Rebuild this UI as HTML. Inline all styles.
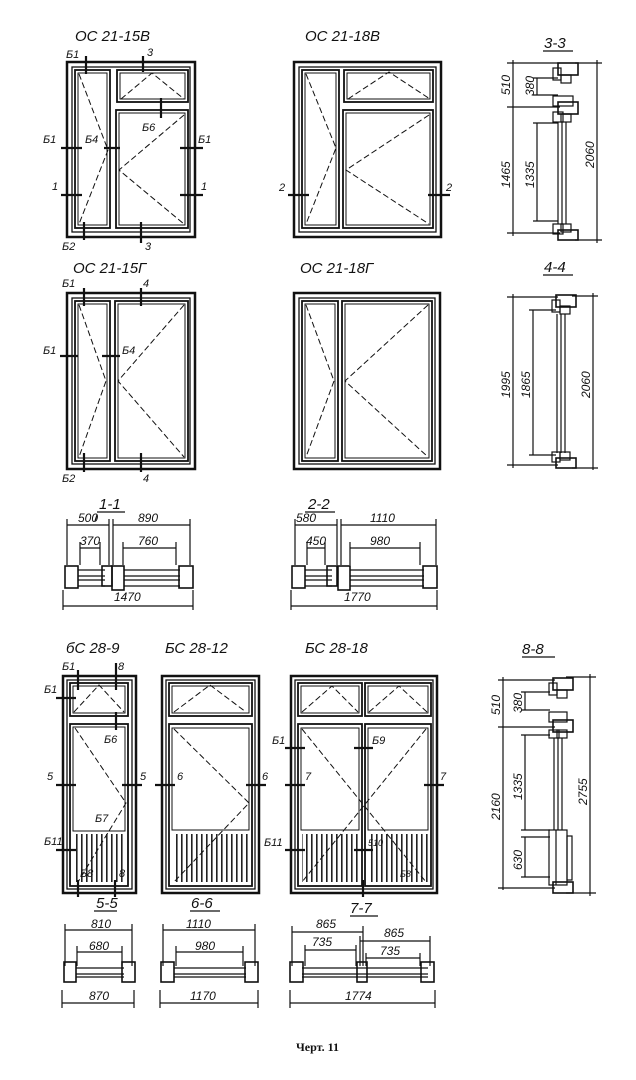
<!DOCTYPE html>
<html><head><meta charset="utf-8"><style>
html,body{margin:0;padding:0;background:#fff;}
svg{display:block;}
text{font-family:"Liberation Sans","DejaVu Sans",sans-serif;font-style:italic;fill:#111;}
.t{font-size:15px;}
.l{font-size:11px;}
.d{font-size:12px;}
</style></head><body>
<svg width="636" height="1080" viewBox="0 0 636 1080" xmlns="http://www.w3.org/2000/svg">
<defs>
<pattern id="h" width="5" height="10" patternUnits="userSpaceOnUse"><rect x="1" y="0" width="1.6" height="10" fill="#222"/></pattern>
</defs>
<g fill="none" stroke="#111">
<!-- OC 21-15B -->
<rect x="67" y="62" width="128" height="175" stroke-width="2.5"/>
<rect x="72" y="67" width="118" height="165" stroke-width="1.3"/>
<rect x="75" y="70" width="35" height="158" stroke-width="1.8"/><rect x="78" y="73" width="29" height="152" stroke-width="1"/>
<rect x="117" y="70" width="71" height="32" stroke-width="1.8"/><rect x="120" y="73" width="65" height="26" stroke-width="1"/>
<rect x="116" y="110" width="72" height="118" stroke-width="1.8"/><rect x="119" y="113" width="66" height="112" stroke-width="1"/>
<g stroke-dasharray="6,3" stroke-width="1"><polyline points="79,74 108,150 79,224"/><polyline points="121,99 152,73 184,99"/><polyline points="184,115 119,170 184,224"/></g>
<!-- OC 21-18B -->
<rect x="294" y="62" width="147" height="175" stroke-width="2.5"/>
<rect x="299" y="67" width="137" height="165" stroke-width="1.3"/>
<rect x="302" y="70" width="37" height="158" stroke-width="1.8"/><rect x="305" y="73" width="31" height="152" stroke-width="1"/>
<rect x="344" y="70" width="89" height="32" stroke-width="1.8"/><rect x="347" y="73" width="83" height="26" stroke-width="1"/>
<rect x="343" y="110" width="90" height="118" stroke-width="1.8"/><rect x="346" y="113" width="84" height="112" stroke-width="1"/>
<g stroke-dasharray="6,3" stroke-width="1"><polyline points="306,74 336,148 306,224"/><polyline points="348,99 389,72 430,99"/><polyline points="429,115 346,170 429,224"/></g>
<!-- OC 21-15G -->
<rect x="67" y="293" width="128" height="176" stroke-width="2.5"/>
<rect x="72" y="298" width="118" height="166" stroke-width="1.3"/>
<rect x="75" y="301" width="35" height="160" stroke-width="1.8"/><rect x="78" y="304" width="29" height="154" stroke-width="1"/>
<rect x="115" y="301" width="73" height="160" stroke-width="1.8"/><rect x="118" y="304" width="67" height="154" stroke-width="1"/>
<g stroke-dasharray="6,3" stroke-width="1"><polyline points="79,305 106,381 79,457"/><polyline points="184,305 118,381 184,457"/></g>
<!-- OC 21-18G -->
<rect x="294" y="293" width="146" height="176" stroke-width="2.5"/>
<rect x="299" y="298" width="136" height="166" stroke-width="1.3"/>
<rect x="302" y="301" width="36" height="160" stroke-width="1.8"/><rect x="305" y="304" width="30" height="154" stroke-width="1"/>
<rect x="342" y="301" width="90" height="160" stroke-width="1.8"/><rect x="345" y="304" width="84" height="154" stroke-width="1"/>
<g stroke-dasharray="6,3" stroke-width="1"><polyline points="306,305 334,381 306,457"/><polyline points="428,305 345,381 428,457"/></g>
<!-- section marks top windows -->
<g stroke-width="2.2">
<path d="M86,56 V74 M143,56 V72 M161,98 V118 M61,148 H82 M104,148 H120 M180,148 H203 M61,195 H82 M180,195 H203 M84,222 V240 M141,222 V243"/>
<path d="M288,195 H309 M428,195 H450"/>
<path d="M84,288 V306 M141,288 V306 M60,356 H78 M102,356 H120 M84,453 V472 M141,453 V472"/>
</g>
<!-- BS 28-9 -->
<rect x="63" y="676" width="73" height="217" stroke-width="2.5"/>
<rect x="67" y="680" width="65" height="209" stroke-width="1.3"/>
<rect x="70" y="683" width="58" height="33" stroke-width="1.8"/><rect x="73" y="686" width="52" height="27" stroke-width="1"/>
<rect x="70" y="724" width="58" height="162" stroke-width="1.8"/><rect x="73" y="727" width="52" height="104" stroke-width="1"/>
<rect x="74" y="834" width="52" height="48" fill="url(#h)" stroke="none"/>
<g stroke-dasharray="6,3" stroke-width="1"><polyline points="74,712 99,685 124,712"/><polyline points="75,728 126,803 78,882"/></g>
<!-- BS 28-12 -->
<rect x="162" y="676" width="97" height="217" stroke-width="2.5"/>
<rect x="166" y="680" width="89" height="209" stroke-width="1.3"/>
<rect x="169" y="683" width="83" height="33" stroke-width="1.8"/><rect x="172" y="686" width="77" height="27" stroke-width="1"/>
<rect x="169" y="724" width="83" height="162" stroke-width="1.8"/><rect x="172" y="728" width="77" height="102" stroke-width="1"/>
<rect x="173" y="834" width="76" height="48" fill="url(#h)" stroke="none"/>
<g stroke-dasharray="6,3" stroke-width="1"><polyline points="174,712 210,685 246,712"/><polyline points="174,729 249,803 174,882"/></g>
<!-- BS 28-18 -->
<rect x="291" y="676" width="146" height="217" stroke-width="2.5"/>
<rect x="295" y="680" width="138" height="209" stroke-width="1.3"/>
<rect x="298" y="683" width="64" height="33" stroke-width="1.8"/><rect x="301" y="686" width="58" height="27" stroke-width="1"/>
<rect x="365" y="683" width="66" height="33" stroke-width="1.8"/><rect x="368" y="686" width="60" height="27" stroke-width="1"/>
<rect x="298" y="724" width="64" height="162" stroke-width="1.8"/><rect x="301" y="728" width="58" height="102" stroke-width="1"/>
<rect x="365" y="724" width="66" height="162" stroke-width="1.8"/><rect x="368" y="728" width="60" height="102" stroke-width="1"/>
<rect x="302" y="834" width="57" height="48" fill="url(#h)" stroke="none"/>
<rect x="368" y="834" width="60" height="48" fill="url(#h)" stroke="none"/>
<g stroke-dasharray="6,3" stroke-width="1"><polyline points="302,712 332,686 358,712"/><polyline points="369,712 399,686 427,712"/><line x1="302" y1="729" x2="426" y2="882"/><line x1="426" y1="729" x2="302" y2="882"/></g>
<g stroke-width="2.2">
<path d="M78,670 V690 M116,663 V690 M116,712 V730 M56,698 H76 M56,785 H76 M122,785 H142 M56,850 H76 M78,880 V897 M115,880 V897"/>
<path d="M155,785 H175 M246,785 H266 M285,748 H305 M285,785 H305 M354,748 H373 M424,785 H444 M285,850 H305 M354,850 H373 M363,880 V897"/>
</g>
<!-- right section 3-3 -->
<g stroke-width="1.2">
<path d="M513,60 V236 M507,63 H560 M507,107 H560 M507,233 H560 M537,78 V95 M533,78 H558 M533,95 H558 M537,123 V221 M533,123 H558 M533,221 H558 M597,60 V243 M575,63 H602 M575,240 H602"/>
<rect x="558" y="63" width="20" height="12" stroke-width="1.6"/><rect x="553" y="68" width="8" height="12"/><rect x="561" y="75" width="10" height="8"/>
<rect x="553" y="96" width="20" height="10"/><rect x="558" y="102" width="20" height="12" stroke-width="1.6"/><rect x="553" y="112" width="10" height="10"/><rect x="561" y="114" width="10" height="8"/>
<path d="M558,122 V224 M562,122 V224 M566,122 V224"/>
<rect x="553" y="224" width="10" height="10"/><rect x="561" y="224" width="10" height="8"/><rect x="558" y="230" width="20" height="10" stroke-width="1.6"/>
</g>
<!-- 4-4 -->
<g stroke-width="1.2">
<path d="M513,294 V468 M507,297 H558 M507,465 H558 M533,310 V455 M529,310 H556 M529,455 H556 M593,293 V470 M572,296 H598 M572,468 H598"/>
<rect x="556" y="295" width="20" height="12" stroke-width="1.6"/><rect x="552" y="300" width="8" height="12"/><rect x="560" y="306" width="10" height="8"/>
<path d="M557,314 V453 M561,314 V453 M565,314 V453"/>
<rect x="552" y="452" width="8" height="10"/><rect x="560" y="452" width="10" height="8"/><rect x="556" y="458" width="20" height="10" stroke-width="1.6"/>
</g>
<!-- 8-8 -->
<g stroke-width="1.2">
<path d="M503,677 V890 M498,680 H555 M498,727 H555 M498,888 H555 M525,692 V710 M521,692 H550 M521,710 H550 M525,735 V830 M521,735 H550 M521,830 H550 M525,837 V877 M521,837 H550 M521,877 H550 M590,674 V896 M566,677 H596 M566,893 H596"/>
<rect x="553" y="678" width="20" height="12" stroke-width="1.6"/><rect x="549" y="683" width="8" height="12"/><rect x="557" y="690" width="10" height="8"/>
<rect x="549" y="712" width="18" height="10"/><rect x="553" y="720" width="20" height="12" stroke-width="1.6"/><rect x="549" y="730" width="10" height="8"/><rect x="557" y="730" width="10" height="8"/>
<path d="M554,738 V830 M558,738 V830 M562,738 V830"/>
<rect x="549" y="830" width="18" height="55"/><rect x="567" y="836" width="5" height="44"/><path d="M556,830 V885"/>
<rect x="553" y="882" width="20" height="11" stroke-width="1.6"/>
</g>
<!-- 1-1 section -->
<g stroke-width="1.2">
<path d="M67,525 H109 M113,525 H190 M67,519 V565 M109,519 V565 M113,519 V565 M190,519 V565 M80,548 H100 M80,542 V565 M100,542 V565 M123,548 H176 M123,542 V565 M176,542 V565 M63,606 H193 M63,590 V610 M193,590 V610 M95,521 L97,515"/>
<path d="M78,570 H105 M78,576 H105 M78,580 H105 M78,586 H105 M124,570 H180 M124,576 H180 M124,580 H180 M124,586 H180"/>
<g stroke-width="1.6"><rect x="65" y="566" width="13" height="22"/><rect x="102" y="566" width="10" height="20"/><rect x="112" y="566" width="12" height="24"/><rect x="179" y="566" width="14" height="22"/></g>
</g>
<!-- 2-2 section -->
<g stroke-width="1.2">
<path d="M295,525 H337 M341,525 H436 M295,519 V565 M337,519 V565 M341,519 V565 M436,519 V565 M307,548 H325 M307,542 V565 M325,542 V565 M350,548 H420 M350,542 V565 M420,542 V565 M291,606 H437 M291,590 V610 M437,590 V610"/>
<path d="M305,570 H332 M305,576 H332 M305,580 H332 M305,586 H332 M350,570 H424 M350,576 H424 M350,580 H424 M350,586 H424"/>
<g stroke-width="1.6"><rect x="292" y="566" width="13" height="22"/><rect x="327" y="566" width="10" height="20"/><rect x="338" y="566" width="12" height="24"/><rect x="423" y="566" width="14" height="22"/></g>
</g>
<!-- 5-5 -->
<g stroke-width="1.2">
<path d="M94,911 H117 M65,930 H132 M65,924 V966 M132,924 V966 M77,952 H122 M77,946 V966 M122,946 V966 M62,1003 H134 M62,990 V1008 M134,990 V1008"/>
<path d="M76,968 H124 M76,974 H124 M76,977 H124"/>
<g stroke-width="1.6"><rect x="64" y="962" width="12" height="20"/><rect x="122" y="962" width="13" height="20"/></g>
</g>
<!-- 6-6 -->
<g stroke-width="1.2">
<path d="M190,911 H220 M163,930 H255 M163,924 V966 M255,924 V966 M176,952 H243 M176,946 V966 M243,946 V966 M160,1003 H258 M160,990 V1008 M258,990 V1008"/>
<path d="M174,968 H246 M174,974 H246 M174,977 H246"/>
<g stroke-width="1.6"><rect x="161" y="962" width="13" height="20"/><rect x="245" y="962" width="13" height="20"/></g>
</g>
<!-- 7-7 -->
<g stroke-width="1.2">
<path d="M350,916 H378 M292,932 H363 M360,941 H430 M292,926 V966 M363,926 V966 M360,936 V966 M430,936 V966 M305,950 H356 M305,945 V966 M356,945 V966 M366,958 H420 M366,953 V966 M420,953 V966 M290,1003 H435 M290,990 V1008 M435,990 V1008"/>
<path d="M302,968 H428 M302,974 H428 M302,977 H428"/>
<g stroke-width="1.6"><rect x="290" y="962" width="13" height="20"/><rect x="357" y="962" width="10" height="20"/><rect x="421" y="962" width="13" height="20"/></g>
</g>
<path d="M543,51 H573 M543,275 H573 M522,657 H555 M97,512 H125 M305,512 H335 M545,51" stroke-width="1.2"/>
</g>
<!-- titles -->
<text class="t" x="75" y="41">ОС 21-15В</text>
<text class="t" x="305" y="41">ОС 21-18В</text>
<text class="t" x="73" y="273">ОС 21-15Г</text>
<text class="t" x="300" y="273">ОС 21-18Г</text>
<text class="t" x="66" y="653">бС 28-9</text>
<text class="t" x="165" y="653">БС 28-12</text>
<text class="t" x="305" y="653">БС 28-18</text>
<text class="t" x="544" y="48">3-3</text>
<text class="t" x="544" y="272">4-4</text>
<text class="t" x="522" y="654">8-8</text>
<text class="t" x="99" y="509">1-1</text>
<text class="t" x="308" y="509">2-2</text>
<text class="t" x="96" y="908">5-5</text>
<text class="t" x="191" y="908">6-6</text>
<text class="t" x="350" y="913">7-7</text>
<!-- labels top -->
<g class="l">
<text class="l" x="66" y="58">Б1</text><text class="l" x="147" y="56">3</text><text class="l" x="142" y="131">Б6</text>
<text class="l" x="43" y="143">Б1</text><text class="l" x="85" y="143">Б4</text><text class="l" x="198" y="143">Б1</text>
<text class="l" x="52" y="190">1</text><text class="l" x="201" y="190">1</text>
<text class="l" x="62" y="250">Б2</text><text class="l" x="145" y="250">3</text>
<text class="l" x="279" y="191">2</text><text class="l" x="446" y="191">2</text>
<text class="l" x="62" y="287">Б1</text><text class="l" x="143" y="287">4</text>
<text class="l" x="43" y="354">Б1</text><text class="l" x="122" y="354">Б4</text>
<text class="l" x="62" y="482">Б2</text><text class="l" x="143" y="482">4</text>
<text class="l" x="62" y="670">Б1</text><text class="l" x="118" y="670">8</text>
<text class="l" x="44" y="693">Б1</text><text class="l" x="104" y="743">Б6</text>
<text class="l" x="47" y="780">5</text><text class="l" x="140" y="780">5</text>
<text class="l" x="95" y="822">Б7</text><text class="l" x="44" y="845">Б11</text>
<text class="l" x="80" y="877">Б8</text><text class="l" x="119" y="877">8</text>
<text class="l" x="177" y="780">6</text><text class="l" x="262" y="780">6</text>
<text class="l" x="272" y="744">Б1</text><text class="l" x="372" y="744">Б9</text>
<text class="l" x="305" y="780">7</text><text class="l" x="440" y="780">7</text>
<text class="l" x="264" y="846">Б11</text><text class="l" x="368" y="846" style="font-size:9px">510</text>
<text class="l" x="400" y="877" style="font-size:9px">Б8</text>
</g>
<!-- dims -->
<text class="d" x="78" y="522">500</text><text class="d" x="138" y="522">890</text>
<text class="d" x="80" y="545">370</text><text class="d" x="138" y="545">760</text>
<text class="d" x="114" y="601">1470</text>
<text class="d" x="296" y="522">580</text><text class="d" x="370" y="522">1110</text>
<text class="d" x="306" y="545">450</text><text class="d" x="370" y="545">980</text>
<text class="d" x="344" y="601">1770</text>
<text class="d" x="91" y="928">810</text><text class="d" x="89" y="950">680</text><text class="d" x="89" y="1000">870</text>
<text class="d" x="186" y="928">1110</text><text class="d" x="195" y="950">980</text><text class="d" x="190" y="1000">1170</text>
<text class="d" x="316" y="928">865</text><text class="d" x="384" y="937">865</text>
<text class="d" x="312" y="946">735</text><text class="d" x="380" y="955">735</text><text class="d" x="345" y="1000">1774</text>
<g class="d">
<text class="d" transform="translate(510,95) rotate(-90)">510</text>
<text class="d" transform="translate(534,96) rotate(-90)">380</text>
<text class="d" transform="translate(510,188) rotate(-90)">1465</text>
<text class="d" transform="translate(534,188) rotate(-90)">1335</text>
<text class="d" transform="translate(594,168) rotate(-90)">2060</text>
<text class="d" transform="translate(510,398) rotate(-90)">1995</text>
<text class="d" transform="translate(530,398) rotate(-90)">1865</text>
<text class="d" transform="translate(590,398) rotate(-90)">2060</text>
<text class="d" transform="translate(500,715) rotate(-90)">510</text>
<text class="d" transform="translate(522,713) rotate(-90)">380</text>
<text class="d" transform="translate(500,820) rotate(-90)">2160</text>
<text class="d" transform="translate(522,800) rotate(-90)">1335</text>
<text class="d" transform="translate(522,870) rotate(-90)">630</text>
<text class="d" transform="translate(587,805) rotate(-90)">2755</text>
</g>
<text x="296" y="1051" style="font-family:'Liberation Serif',serif;font-style:normal;font-weight:bold;font-size:12px">Черт. 11</text>
</svg>
</body></html>
